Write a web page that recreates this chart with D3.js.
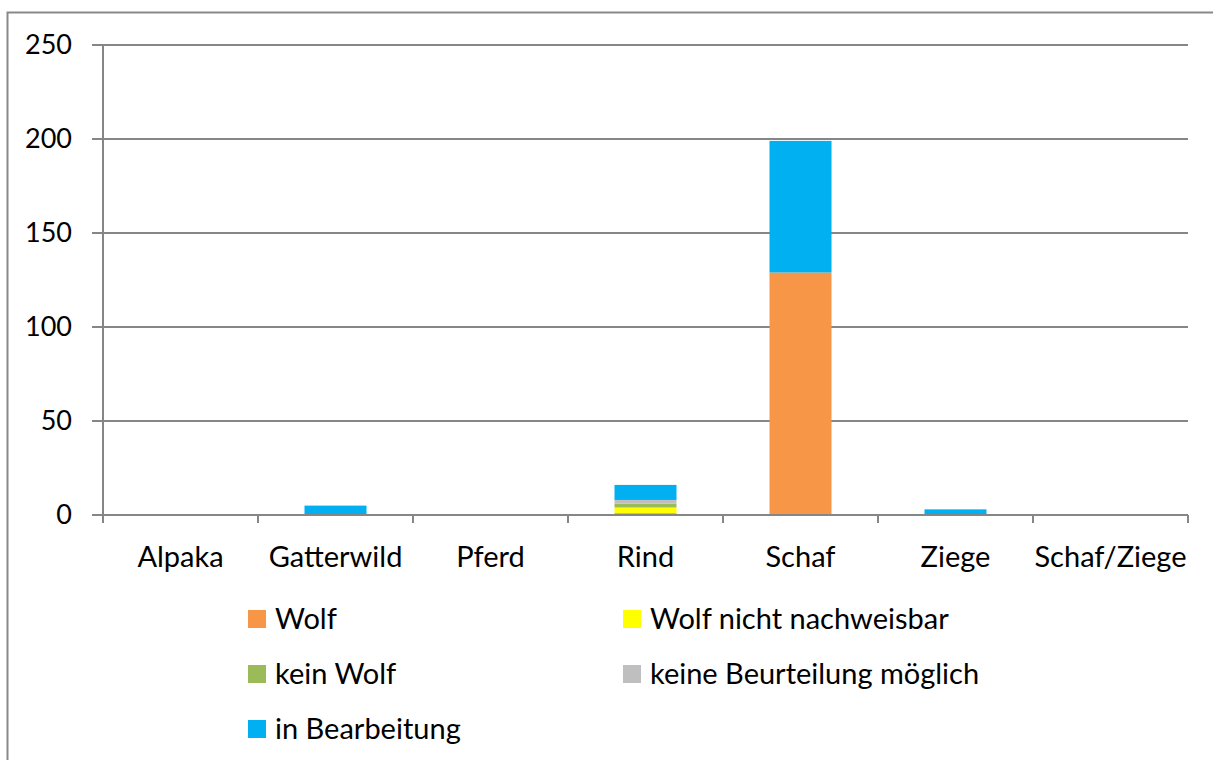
<!DOCTYPE html>
<html>
<head>
<meta charset="utf-8">
<script src="https://cdn.jsdelivr.net/npm/d3@7"></script>
<style>
  body { margin: 0; background: #fff; }
  svg { display: block; font-family: Lato, "Open Sans", sans-serif; }
</style>
</head>
<body>
<svg width="1213" height="760"></svg>
<script>
// categories and series
const categories = ['Alpaka', 'Gatterwild', 'Pferd', 'Rind', 'Schaf', 'Ziege', 'Schaf/Ziege'];
const seriesNames = ['Wolf', 'Wolf nicht nachweisbar', 'kein Wolf', 'keine Beurteilung möglich', 'in Bearbeitung'];
const wolf        = [0, 0, 0, 1, 129, 0, 0];
const nichtNachw  = [0, 0, 0, 3, 0, 0, 0];
const keinWolf    = [0, 0, 0, 2, 0, 0, 0];
const keineBeurt  = [0, 0, 0, 2, 0, 0, 0];
const inBearb     = [0, 5, 0, 8, 70, 3, 0];
const yTicks = [0, 50, 100, 150, 200, 250];
const colors = ['#F79646', '#FFFF00', '#9BBB59', '#BFBFBF', '#00B0F0'];

const values = [wolf, nichtNachw, keinWolf, keineBeurt, inBearb];
const rows = categories.map((c, i) => {
  const r = { cat: c };
  seriesNames.forEach((s, j) => r[s] = values[j][i]);
  return r;
});

const svg = d3.select('svg');

// outer chart border (right / bottom edges run off the picture)
svg.append('rect')
  .attr('x', 7.5).attr('y', 12.5)
  .attr('width', 1220).attr('height', 760)
  .attr('fill', 'none')
  .attr('stroke', '#898989')
  .attr('stroke-width', 2);

const x = d3.scaleBand().domain(categories).range([103, 1188]).paddingInner(0.6).paddingOuter(0.3);
const xb = d3.scaleBand().domain(categories).range([103, 1188]);
const y = d3.scaleLinear().domain([0, 250]).range([515, 45]);

// gridlines
svg.append('g')
  .selectAll('line')
  .data(yTicks)
  .join('line')
  .attr('x1', 92).attr('x2', 1188)
  .attr('y1', d => y(d)).attr('y2', d => y(d))
  .attr('stroke', '#868686')
  .attr('stroke-width', 2);

// y axis labels
svg.append('g')
  .selectAll('text')
  .data(yTicks)
  .join('text')
  .attr('x', 72)
  .attr('y', d => y(d))
  .attr('dy', '0.35em')
  .attr('text-anchor', 'end')
  .attr('font-size', 27)
  .attr('fill', '#000')
  .text(d => d);

// bars
const stack = d3.stack().keys(seriesNames)(rows);
svg.append('g')
  .selectAll('g')
  .data(stack)
  .join('g')
  .attr('fill', (d, i) => colors[i])
  .selectAll('rect')
  .data(d => d)
  .join('rect')
  .attr('x', d => x(d.data.cat))
  .attr('width', x.bandwidth())
  .attr('y', d => y(d[1]))
  .attr('height', d => y(d[0]) - y(d[1]));

// y axis line
svg.append('line')
  .attr('x1', 103).attr('x2', 103)
  .attr('y1', y(250)).attr('y2', y(0))
  .attr('stroke', '#868686').attr('stroke-width', 2);

// x axis line + category tick marks
svg.append('line')
  .attr('x1', 92).attr('x2', 1188)
  .attr('y1', y(0)).attr('y2', y(0))
  .attr('stroke', '#868686').attr('stroke-width', 2);
const bounds = categories.map(c => xb(c)).concat([1188]);
svg.append('g')
  .selectAll('line')
  .data(bounds)
  .join('line')
  .attr('x1', d => d).attr('x2', d => d)
  .attr('y1', y(0)).attr('y2', y(0) + 8)
  .attr('stroke', '#868686').attr('stroke-width', 2);

// x labels
svg.append('g')
  .selectAll('text')
  .data(categories)
  .join('text')
  .attr('x', d => xb(d) + xb.bandwidth() / 2)
  .attr('y', 557)
  .attr('dy', '0.35em')
  .attr('text-anchor', 'middle')
  .attr('font-size', 29)
  .text(d => d);

// legend
const legend = svg.append('g')
  .selectAll('g')
  .data(seriesNames)
  .join('g')
  .attr('transform', (d, i) => `translate(${i % 2 === 0 ? 248 : 623},${619 + Math.floor(i / 2) * 55})`);
legend.append('rect')
  .attr('x', 0).attr('y', -9)
  .attr('width', 18).attr('height', 18)
  .attr('fill', (d, i) => colors[i]);
legend.append('text')
  .attr('x', 27).attr('y', 0)
  .attr('dy', '0.35em')
  .attr('font-size', 29)
  .text(d => d);
</script>
</body>
</html>
